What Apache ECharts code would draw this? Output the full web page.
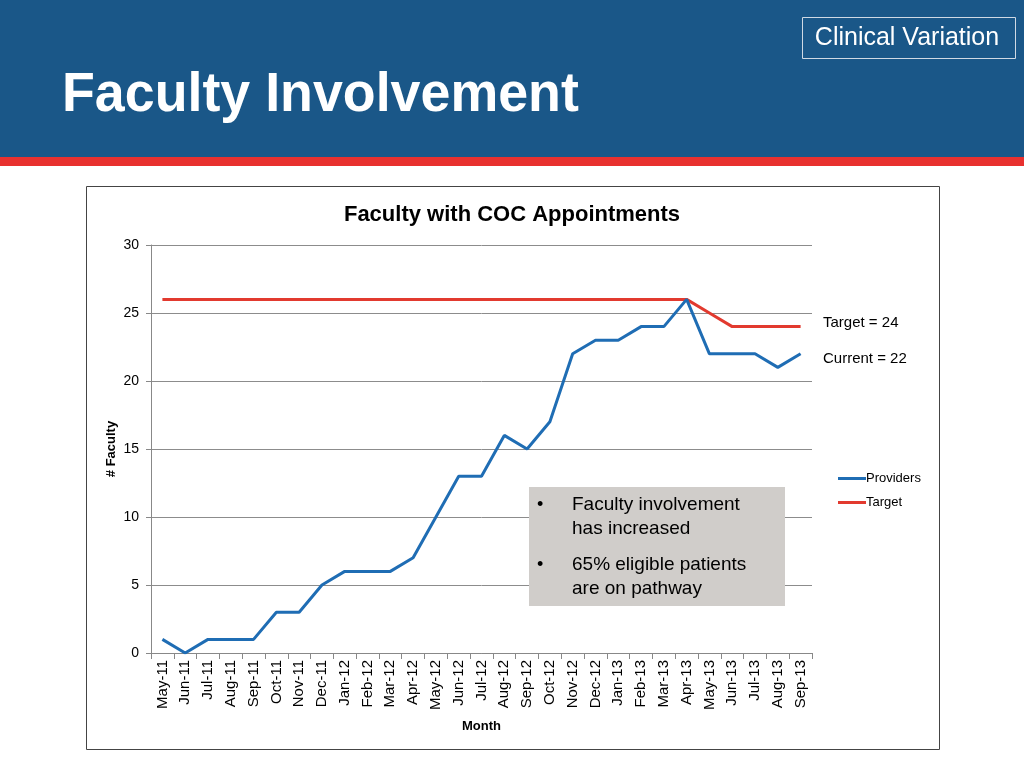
<!DOCTYPE html>
<html><head><meta charset="utf-8">
<script src="https://cdn.jsdelivr.net/npm/echarts@6/dist/echarts.min.js"></script>
<style>html,body{margin:0;padding:0;background:#fff}#c{width:1024px;height:768px}</style>
</head><body><div id="c"></div>
<script>
const months = ['May-11','Jun-11','Jul-11','Aug-11','Sep-11','Oct-11','Nov-11','Dec-11','Jan-12','Feb-12','Mar-12','Apr-12','May-12','Jun-12','Jul-12','Aug-12','Sep-12','Oct-12','Nov-12','Dec-12','Jan-13','Feb-13','Mar-13','Apr-13','May-13','Jun-13','Jul-13','Aug-13','Sep-13'];
const providers = [1,0,1,1,1,3,3,5,6,6,6,7,10,13,13,16,15,17,22,23,23,24,24,26,22,22,22,21,22];
const target = [26,26,26,26,26,26,26,26,26,26,26,26,26,26,26,26,26,26,26,26,26,26,26,26,25,24,24,24,24];
const yTicks = {min:0, max:30, interval:5};

const chart = echarts.init(document.getElementById('c'));
const F = 'Liberation Sans, Arial, sans-serif';
chart.setOption({
  animation:false,
  textStyle:{fontFamily:F},
  graphic:[
    {type:'rect', shape:{x:0,y:0,width:1024,height:158}, style:{fill:'#1a5788'}, z:-10},
    {type:'rect', shape:{x:0,y:157,width:1024,height:9}, style:{fill:'#e8312f'}, z:-10},
    {type:'text', x:62, y:96, scaleX:0.96, style:{text:'Faculty Involvement', fill:'#fff', font:'bold 56px '+F, textVerticalAlign:'middle'}},
    {type:'rect', shape:{x:802.5,y:17.5,width:213,height:41}, style:{fill:'none', stroke:'#cfd9e4', lineWidth:1}},
    {type:'text', x:907, y:38, style:{text:'Clinical Variation', fill:'#fff', font:'25px '+F, textAlign:'center', textVerticalAlign:'middle'}},
    {type:'rect', shape:{x:86.5,y:186.5,width:853,height:563}, style:{fill:'none', stroke:'#444', lineWidth:1}, z:-5},
    {type:'rect', shape:{x:529,y:487,width:256,height:119}, style:{fill:'#d0cdca'}, z:10},
    {type:'text', x:537, y:505, z:11, style:{text:'•', fill:'#000', font:'18px '+F, textVerticalAlign:'middle'}},
    {type:'text', x:572, y:505, z:11, style:{text:'Faculty involvement', fill:'#000', font:'19px '+F, textVerticalAlign:'middle'}},
    {type:'text', x:572, y:529, z:11, style:{text:'has increased', fill:'#000', font:'19px '+F, textVerticalAlign:'middle'}},
    {type:'text', x:537, y:565, z:11, style:{text:'•', fill:'#000', font:'18px '+F, textVerticalAlign:'middle'}},
    {type:'text', x:572, y:565, z:11, style:{text:'65% eligible patients', fill:'#000', font:'19px '+F, textVerticalAlign:'middle'}},
    {type:'text', x:572, y:589, z:11, style:{text:'are on pathway', fill:'#000', font:'19px '+F, textVerticalAlign:'middle'}},
    {type:'text', x:823, y:323, style:{text:'Target = 24', fill:'#000', font:'15px '+F, textVerticalAlign:'middle'}},
    {type:'text', x:823, y:359, style:{text:'Current = 22', fill:'#000', font:'15px '+F, textVerticalAlign:'middle'}}
  ],
  title:{text:'Faculty with COC Appointments', left:'center', top:199, textStyle:{fontSize:22, fontWeight:'bold', color:'#000', fontFamily:F}},
  legend:{orient:'vertical', left:833, top:467, itemWidth:28, itemHeight:3, itemGap:11, icon:'rect',
    textStyle:{fontSize:13, color:'#000', fontFamily:F, padding:[0,0,0,-5]}, data:['Providers','Target']},
  grid:{left:151, right:212, top:245, bottom:115},
  xAxis:{type:'category', data:months, boundaryGap:true,
    name:'Month', nameLocation:'middle', nameGap:67, nameMoveOverlap:false, nameTextStyle:{fontSize:13, fontWeight:'bold', color:'#000'},
    axisLine:{lineStyle:{color:'#888'}}, axisTick:{show:true, alignWithLabel:false, length:6, lineStyle:{color:'#888'}},
    axisLabel:{rotate:90, fontSize:15, color:'#000', interval:0, margin:7}},
  yAxis:{type:'value', min:yTicks.min, max:yTicks.max, interval:yTicks.interval,
    name:'# Faculty', nameLocation:'middle', nameGap:33, nameMoveOverlap:false, nameTextStyle:{fontSize:13, fontWeight:'bold', color:'#000'},
    axisLine:{show:true, lineStyle:{color:'#888'}}, axisTick:{show:true, length:5, lineStyle:{color:'#888'}},
    axisLabel:{fontSize:14, color:'#000', margin:12},
    splitLine:{lineStyle:{color:'#8c8c8c', width:1}}},
  series:[
    {name:'Providers', type:'line', data:providers, symbol:'none', lineStyle:{color:'#1f6db4', width:3}, itemStyle:{color:'#1f6db4'}, z:3},
    {name:'Target', type:'line', data:target, symbol:'none', lineStyle:{color:'#e23a2f', width:3}, itemStyle:{color:'#e23a2f'}, z:2}
  ]
});
</script></body></html>
